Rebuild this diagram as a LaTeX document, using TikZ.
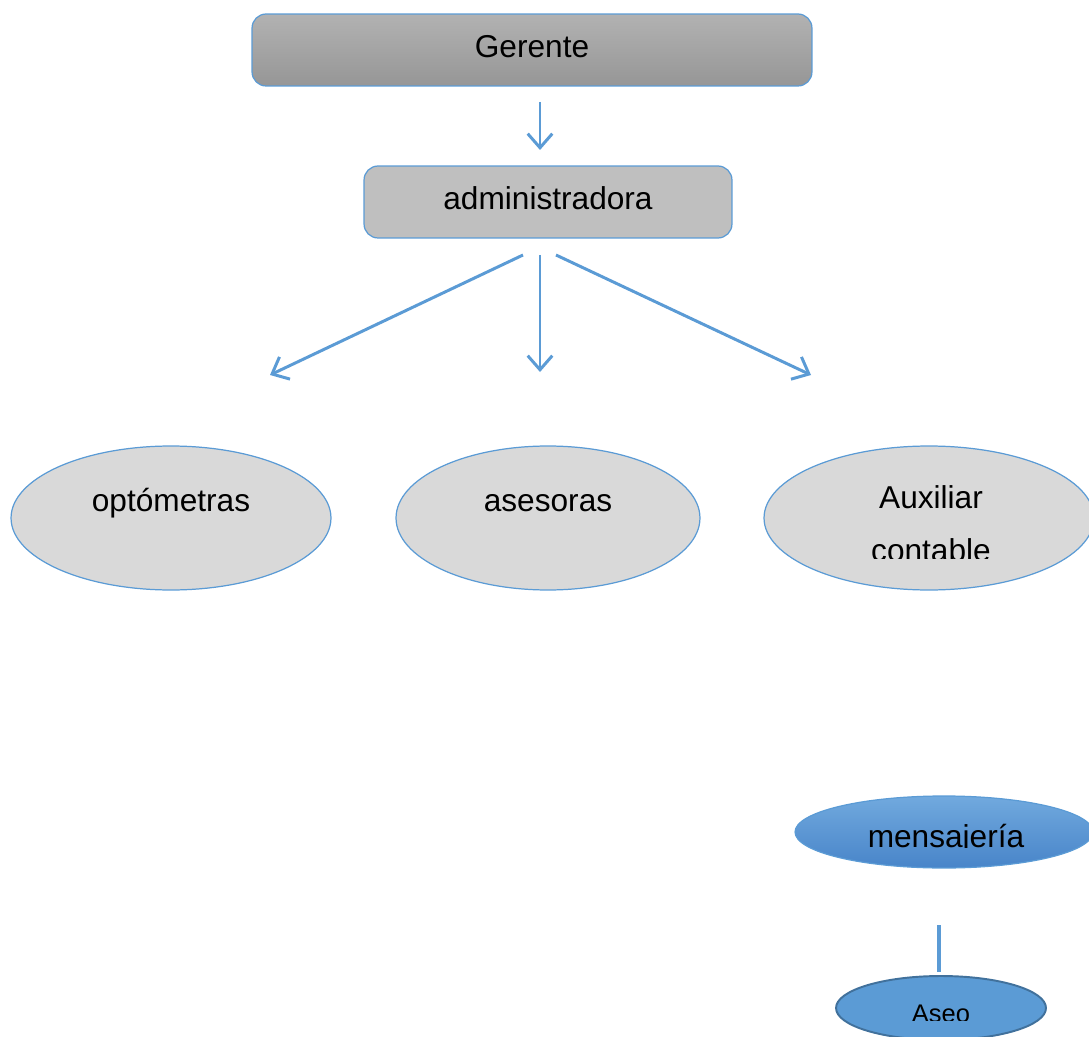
\documentclass[tikz,border=0pt]{standalone}
\usepackage{fontspec}
\setmainfont{Liberation Sans}
\usetikzlibrary{shapes.geometric,arrows.meta}

\begin{document}
\begin{tikzpicture}[x=0.02cm,y=-0.02cm]
	\tikzstyle{every node}=[font=\fontsize{18}{22}\selectfont]
	\tikzstyle{caja}=[draw={rgb,255:red,91; green,155; blue,213}, line width=0.7pt, rounded corners=8pt, minimum height=1.44cm, inner sep=0pt]
	\tikzstyle{ovalo}=[ellipse, draw={rgb,255:red,91; green,155; blue,213}, line width=0.7pt, fill={rgb,255:red,217; green,217; blue,217}, inner sep=0pt, minimum height=2.88cm]
	\tikzstyle{texto}=[anchor=base, inner sep=0pt]
	\tikzstyle{flecha}=[draw={rgb,255:red,91; green,155; blue,213}, line width=1.7pt, -{Straight Barb[length=8pt,width=14pt]}]
	\useasboundingbox (0,0) rectangle (1089,1037);

	% jefes
	\node [caja, minimum width=11.2cm, top color={rgb,255:red,178; green,178; blue,178}, bottom color={rgb,255:red,150; green,150; blue,150}] (gerente) at (532,50) {};
	\node [texto] (tgerente) at (532,58) {Gerente};
	\node [caja, minimum width=7.36cm, fill={rgb,255:red,191; green,191; blue,191}] (admin) at (548,202) {};
	\node [texto] (tadmin) at (548,210) {administradora};

	% cargos
	\node [ovalo, minimum width=6.4cm] (opto) at (171,518) {};
	\node [texto] (topto) at (171,511) {optómetras};
	\node [ovalo, minimum width=6.08cm] (ases) at (548,518) {};
	\node [texto] (tases) at (548,511) {asesoras};
	\node [ovalo, minimum width=6.6cm] (aux) at (929,518) {};
	\node [texto] (taux) at (931,508) {Auxiliar};
	\begin{scope}
		\clip (760,520) rectangle (1089,558);
		\node [texto] (taux2) at (931,561) {contable};
	\end{scope}

	\node [ellipse, draw={rgb,255:red,91; green,155; blue,213}, line width=0.7pt, top color={rgb,255:red,113; green,169; blue,222}, bottom color={rgb,255:red,72; green,133; blue,201}, inner sep=0pt, minimum width=5.96cm, minimum height=1.44cm] (mens) at (944,832) {};
	\begin{scope}
		\clip (800,800) rectangle (1089,847);
		\node [texto] (tmens) at (946,847) {mensajería};
	\end{scope}
	\node [ellipse, draw={rgb,255:red,65; green,113; blue,156}, line width=1.1pt, fill={rgb,255:red,91; green,155; blue,213}, inner sep=0pt, minimum width=4.2cm, minimum height=1.28cm] (aseo) at (941,1008) {};
	\begin{scope}
		\clip (840,990) rectangle (1040,1020);
		\node [texto, font=\fontsize{14.5}{17}\selectfont] (taseo) at (941,1022) {Aseo};
	\end{scope}

	% conectores
	\coordinate (g1) at (540,102);
	\coordinate (g2) at (540,150);
	\coordinate (a1) at (523,255);
	\coordinate (a2) at (540,255);
	\coordinate (a3) at (556,255);
	\coordinate (b1) at (270,375);
	\coordinate (b2) at (540,372);
	\coordinate (b3) at (811,375);
	\coordinate (m1) at (939,925);
	\coordinate (m2) at (939,972);
	\draw [flecha] (g1) -- (g2);
	\draw [flecha] (a1) -- (b1);
	\draw [flecha] (a2) -- (b2);
	\draw [flecha] (a3) -- (b3);
	\draw [draw={rgb,255:red,91; green,155; blue,213}, line width=2pt] (m1) -- (m2);
\end{tikzpicture}
\end{document}
